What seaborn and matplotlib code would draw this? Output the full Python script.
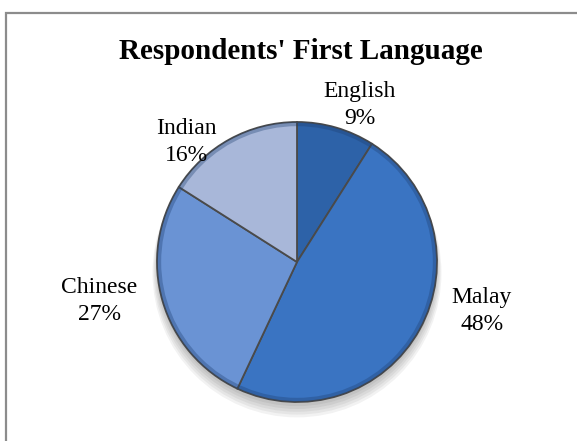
import matplotlib
matplotlib.use("Agg")
import matplotlib.pyplot as plt
from matplotlib.patches import Rectangle, Circle
import seaborn as sns

# Survey results: respondents' first language (percent)
languages = ["English", "Malay", "Chinese", "Indian"]
shares = [9, 48, 27, 16]
slice_colors = ["#2d62a8", "#3a74c2", "#6a93d4", "#a8b7d9"]
title_text = "Respondents' First Language"

sns.set_theme(style="white")
plt.rcParams["font.family"] = ["Liberation Serif", "DejaVu Serif"]

W, H = 577, 441
fig = plt.figure(figsize=(W / 100, H / 100), dpi=100)
fig.patch.set_facecolor("white")

# chart-area border running off the right and bottom edges
fig.patches.append(Rectangle((6 / W, -0.05), 1.1, (H - 13) / H + 0.05,
                             transform=fig.transFigure, fill=False,
                             edgecolor="#8c8c8c", linewidth=1.6, zorder=0))

cx, cy, r = 297, 262, 140
pad = 20
ax = fig.add_axes([(cx - r - pad) / W, (H - cy - r - pad) / H,
                   (2 * r + 2 * pad) / W, (2 * r + 2 * pad) / H])

# soft drop shadow under the pie
for i in range(5):
    ax.add_patch(Circle((0, -0.03 - 0.012 * i), 1.0 + 0.008 * i,
                        facecolor="black", alpha=0.05, linewidth=0, zorder=0))

wedges, _ = ax.pie(shares, colors=slice_colors, startangle=90,
                   counterclock=False, radius=1.0,
                   wedgeprops=dict(edgecolor="#4a4a4a", linewidth=1.3))
for w in wedges:
    w.set_zorder(2)

# darker rim for a bevelled look
ax.add_patch(Circle((0, 0), 0.985, fill=False, edgecolor="#1e3f70",
                    alpha=0.35, linewidth=3, zorder=3))

lim = 1 + pad / r
ax.set_aspect("equal")
ax.set_xlim(-lim, lim)
ax.set_ylim(-lim, lim)
ax.axis("off")

label_pos = [(0.45, 1.12), (1.32, -0.35), (-1.41, -0.28), (-0.79, 0.86)]
for name, val, (lx, ly) in zip(languages, shares, label_pos):
    ax.text(lx, ly, f"{name}\n{val}%", ha="center", va="center",
            fontsize=17, color="black", linespacing=1.38, zorder=5,
            clip_on=False)

fig.text(301 / W, 1 - 59 / H, title_text, ha="center", va="baseline",
         fontsize=21, fontweight="bold", color="black")

fig.savefig("out.png", dpi=100)
